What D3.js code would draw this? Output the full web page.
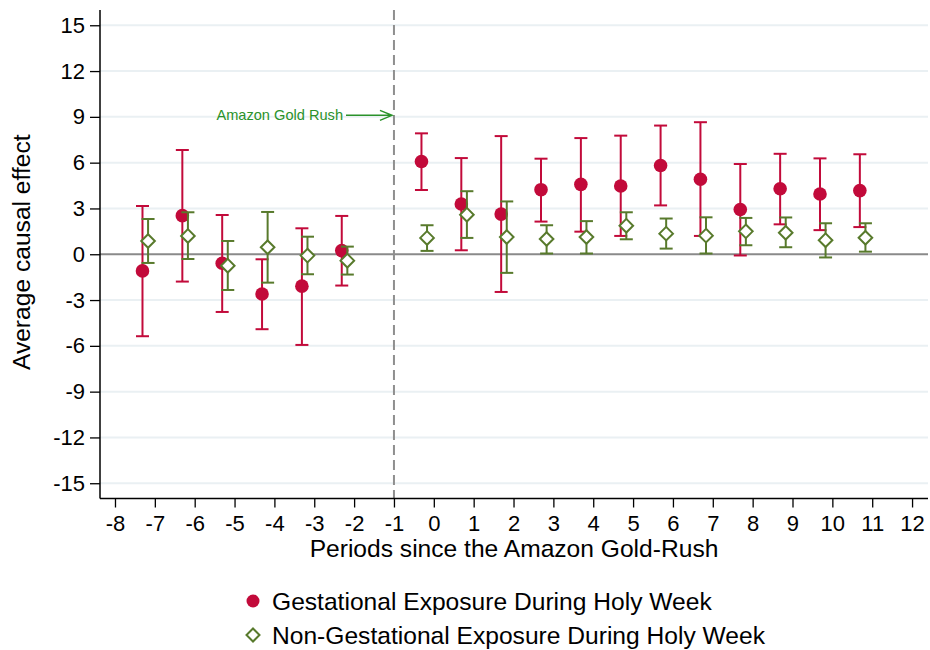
<!DOCTYPE html>
<html>
<head>
<meta charset="utf-8">
<script src="https://cdn.jsdelivr.net/npm/d3@7"></script>
<style>
  html, body { margin: 0; padding: 0; background: #fff; }
  svg { display: block; font-family: "Liberation Sans", Arial, sans-serif; }
</style>
</head>
<body>
<svg id="chart" width="930" height="650"></svg>
<script>
// Event-study estimates by period relative to the Amazon gold rush
const periods = [-7, -6, -5, -4, -3, -2, 0, 1, 2, 3, 4, 5, 6, 7, 8, 9, 10, 11];

const gestEst = [-1.09, 2.53, -0.59, -2.60, -2.09, 0.24, 6.08, 3.29, 2.63, 4.23, 4.58, 4.47, 5.81, 4.91, 2.93, 4.29, 3.95, 4.17];
const gestLo  = [-5.37, -1.79, -3.78, -4.91, -5.94, -2.05, 4.21, 0.26, -2.47, 2.14, 1.48, 1.20, 3.20, 1.20, -0.08, 1.96, 1.58, 1.78];
const gestHi  = [3.16, 6.83, 2.57, -0.33, 1.70, 2.51, 7.92, 6.30, 7.74, 6.26, 7.61, 7.77, 8.43, 8.65, 5.91, 6.58, 6.28, 6.55];

const nonGestEst = [0.87, 1.20, -0.75, 0.46, -0.09, -0.42, 1.07, 2.59, 1.13, 1.00, 1.13, 1.87, 1.35, 1.22, 1.50, 1.41, 0.92, 1.08];
const nonGestLo  = [-0.57, -0.31, -2.34, -1.86, -1.31, -1.33, 0.22, 1.07, -1.22, 0.05, 0.05, 0.98, 0.37, 0.05, 0.59, 0.46, -0.21, 0.17];
const nonGestHi  = [2.31, 2.75, 0.87, 2.77, 1.15, 0.50, 1.90, 4.13, 3.46, 1.90, 2.17, 2.75, 2.34, 2.42, 2.38, 2.41, 2.03, 2.03];

// horizontal shift of each series relative to its period
const gestShift = -0.31;
const nonGestShift = -0.17;

const xTicks = d3.range(-8, 13);
const yTicks = [-15, -12, -9, -6, -3, 0, 3, 6, 9, 12, 15];
const eventPeriod = -1;
const annotationText = "Amazon Gold Rush";
const annotationY = 9.1;

const seriesNames = ["Gestational Exposure During Holy Week", "Non-Gestational Exposure During Holy Week"];
const xTitle = "Periods since the Amazon Gold-Rush";
const yTitle = "Average causal effect";

const RED = "#c20a3a";
const GREEN = "#587a2c";
const ANNOT = "#2a922a";

const svg = d3.select("#chart");
const plotL = 100, plotR = 928, plotT = 10, plotB = 498.5;

const x = d3.scaleLinear().domain([-8.376, 12.40]).range([plotL, plotR]);
const y = d3.scaleLinear().domain([-16, 16]).range([plotB, plotT]);

// plain hyphen-minus for negative tick labels
const fmt = d => String(d);

// gridlines
svg.append("g").selectAll("line").data(yTicks.filter(d => d !== 0)).join("line")
  .attr("x1", plotL).attr("x2", plotR)
  .attr("y1", d => y(d)).attr("y2", d => y(d))
  .attr("stroke", "#eaf0f3").attr("stroke-width", 2);

// zero reference line
svg.append("line")
  .attr("x1", plotL).attr("x2", plotR)
  .attr("y1", y(0)).attr("y2", y(0))
  .attr("stroke", "#8a8a8a").attr("stroke-width", 2);

// event line
svg.append("line")
  .attr("x1", x(eventPeriod)).attr("x2", x(eventPeriod))
  .attr("y1", plotT).attr("y2", plotB)
  .attr("stroke", "#8f8f8f").attr("stroke-width", 2)
  .attr("stroke-dasharray", "10,5");

// axes
const yAxis = d3.axisLeft(y).tickValues(yTicks).tickFormat(fmt).tickSize(10).tickPadding(5).tickSizeOuter(0);
const gy = svg.append("g").attr("transform", `translate(${plotL},0)`).call(yAxis);
gy.select(".domain").attr("stroke", "#000").attr("stroke-width", 1.5).attr("d", `M0,${plotT}V${plotB}`);
gy.selectAll(".tick line").attr("stroke", "#000").attr("stroke-width", 1.3);
gy.selectAll(".tick text").attr("font-size", 22).attr("fill", "#000")
  .attr("font-family", "Liberation Sans, Arial, sans-serif");

const xAxis = d3.axisBottom(x).tickValues(xTicks).tickFormat(fmt).tickSize(9).tickPadding(8).tickSizeOuter(0);
const gx = svg.append("g").attr("transform", `translate(0,${plotB})`).call(xAxis);
gx.select(".domain").attr("stroke", "#000").attr("stroke-width", 1.5).attr("d", `M${plotL},0H${plotR}`);
gx.selectAll(".tick line").attr("stroke", "#000").attr("stroke-width", 1.3);
gx.selectAll(".tick text").attr("font-size", 22).attr("fill", "#000")
  .attr("font-family", "Liberation Sans, Arial, sans-serif");

// axis titles
svg.append("text")
  .attr("x", (plotL + plotR) / 2).attr("y", 557)
  .attr("text-anchor", "middle").attr("font-size", 24.6).attr("fill", "#000")
  .text(xTitle);
svg.append("text")
  .attr("transform", `translate(30,${(plotT + plotB) / 2 - 2}) rotate(-90)`)
  .attr("text-anchor", "middle").attr("font-size", 24.6).attr("fill", "#000")
  .text(yTitle);

// annotation with arrow
const ay = y(annotationY);
const arrowEnd = x(eventPeriod) - 2;
svg.append("text")
  .attr("x", 343).attr("y", ay + 5)
  .attr("text-anchor", "end").attr("font-size", 14.6).attr("fill", ANNOT)
  .text(annotationText);
svg.append("path")
  .attr("d", `M346,${ay}H${arrowEnd} M${arrowEnd - 12},${ay - 5}L${arrowEnd},${ay}L${arrowEnd - 12},${ay + 5}`)
  .attr("fill", "none").attr("stroke", ANNOT).attr("stroke-width", 1.5);

// error bars with caps
function errorBars(g, shift, lo, hi, color) {
  const cap = 6.5;
  const bars = g.selectAll("g").data(periods.map((p, i) => ({ p, lo: lo[i], hi: hi[i] }))).join("g");
  bars.append("line")
    .attr("x1", d => x(d.p + shift)).attr("x2", d => x(d.p + shift))
    .attr("y1", d => y(d.lo)).attr("y2", d => y(d.hi))
    .attr("stroke", color).attr("stroke-width", 2);
  bars.append("line")
    .attr("x1", d => x(d.p + shift) - cap).attr("x2", d => x(d.p + shift) + cap)
    .attr("y1", d => y(d.lo)).attr("y2", d => y(d.lo))
    .attr("stroke", color).attr("stroke-width", 2);
  bars.append("line")
    .attr("x1", d => x(d.p + shift) - cap).attr("x2", d => x(d.p + shift) + cap)
    .attr("y1", d => y(d.hi)).attr("y2", d => y(d.hi))
    .attr("stroke", color).attr("stroke-width", 2);
}

const diamond = (cx, cy, r) => `M${cx},${cy - r}L${cx + r},${cy}L${cx},${cy + r}L${cx - r},${cy}Z`;

// gestational series
const gGest = svg.append("g");
errorBars(gGest.append("g"), gestShift, gestLo, gestHi, RED);
gGest.append("g").selectAll("circle").data(periods.map((p, i) => ({ p, v: gestEst[i] }))).join("circle")
  .attr("cx", d => x(d.p + gestShift)).attr("cy", d => y(d.v))
  .attr("r", 6.8).attr("fill", RED);

// non-gestational series
const gNon = svg.append("g");
errorBars(gNon.append("g"), nonGestShift, nonGestLo, nonGestHi, GREEN);
gNon.append("g").selectAll("path").data(periods.map((p, i) => ({ p, v: nonGestEst[i] }))).join("path")
  .attr("d", d => diamond(x(d.p + nonGestShift), y(d.v), 6.8))
  .attr("fill", "#fff").attr("stroke", GREEN).attr("stroke-width", 2);

// legend
const legend = svg.append("g");
legend.append("circle").attr("cx", 253).attr("cy", 601).attr("r", 6.5).attr("fill", RED);
legend.append("text").attr("x", 272).attr("y", 609.5).attr("font-size", 24.6).attr("fill", "#000").text(seriesNames[0]);
legend.append("path").attr("d", diamond(253, 635, 6.5)).attr("fill", "#fff").attr("stroke", GREEN).attr("stroke-width", 2);
legend.append("text").attr("x", 272).attr("y", 643.5).attr("font-size", 24.6).attr("fill", "#000").text(seriesNames[1]);
</script>
</body>
</html>
